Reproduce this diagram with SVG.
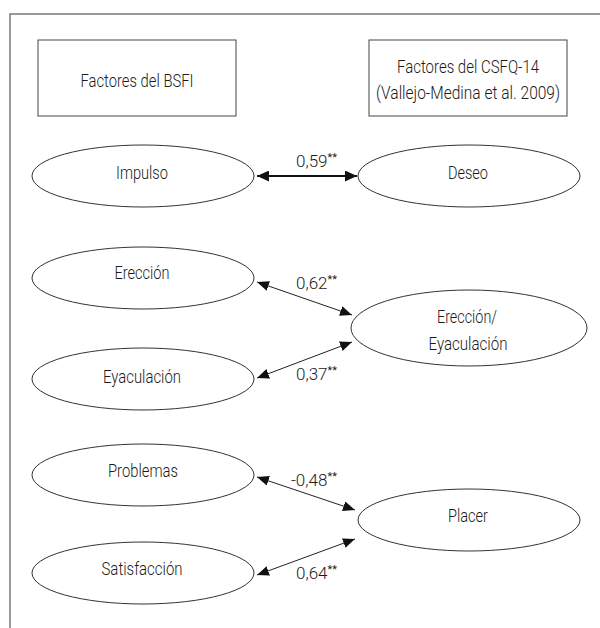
<svg xmlns="http://www.w3.org/2000/svg" width="600" height="628" viewBox="0 0 600 628">
<style>
.frame{fill:none;stroke:#7a7a7a;stroke-width:1.5}
.box{fill:#fff;stroke:#444;stroke-width:1}
.ell{fill:#fff;stroke:#333;stroke-width:1}
.t{font-family:Roboto,"Liberation Sans",Arial,sans-serif;font-weight:300;font-size:18px;fill:#1a1a1a;text-anchor:middle}
.lbl{font-family:Roboto,"Liberation Sans",Arial,sans-serif;font-weight:300;font-size:17px;fill:#1a1a1a}
.sup{font-size:11px;font-weight:400}
.c{stroke:#222;stroke-width:1;fill:none;marker-start:url(#ah);marker-end:url(#ah)}
.cb{stroke:#111;stroke-width:1.8;fill:none;marker-start:url(#ahb);marker-end:url(#ahb)}
</style>
<defs>
<marker id="ah" viewBox="0 0 12 10" refX="12" refY="5" markerWidth="12" markerHeight="10" markerUnits="userSpaceOnUse" orient="auto-start-reverse">
<path d="M0,0 L12,5 L0,10 z" fill="#111"/>
</marker>
<marker id="ahb" viewBox="0 0 12 11" refX="12" refY="5.5" markerWidth="12" markerHeight="11" markerUnits="userSpaceOnUse" orient="auto-start-reverse">
<path d="M0,0 L12,5.5 L0,11 z" fill="#111"/>
</marker>
</defs>
<rect width="600" height="628" fill="#fff"/>
<path class="frame" d="M10,628 V14 H600"/>

<g id="hdr-bsfi">
<rect class="box" x="38" y="40" width="198" height="76"/>
<text class="t" x="137" y="87" textLength="113" lengthAdjust="spacingAndGlyphs">Factores del BSFI</text>
</g>
<g id="hdr-csfq">
<rect class="box" x="369" y="40" width="198" height="76"/>
<text class="t" x="468" y="73" textLength="142" lengthAdjust="spacingAndGlyphs">Factores del CSFQ-14</text>
<text class="t" x="468" y="99" textLength="184" lengthAdjust="spacingAndGlyphs">(Vallejo-Medina et al. 2009)</text>
</g>

<g id="impulso">
<ellipse class="ell" cx="143" cy="176" rx="111" ry="31"/>
<text class="t" x="142" y="179" textLength="52" lengthAdjust="spacingAndGlyphs">Impulso</text>
</g>
<g id="deseo">
<ellipse class="ell" cx="469" cy="176" rx="111" ry="31"/>
<text class="t" x="468" y="179" textLength="40" lengthAdjust="spacingAndGlyphs">Deseo</text>
</g>
<g id="ereccion">
<ellipse class="ell" cx="143" cy="278" rx="111" ry="31"/>
<text class="t" x="142" y="279" textLength="55" lengthAdjust="spacingAndGlyphs">Erección</text>
</g>
<g id="eyaculacion">
<ellipse class="ell" cx="143" cy="379" rx="111" ry="31"/>
<text class="t" x="142" y="383" textLength="78" lengthAdjust="spacingAndGlyphs">Eyaculación</text>
</g>
<g id="ereccion-eyaculacion">
<ellipse class="ell" cx="469" cy="328" rx="118" ry="38"/>
<text class="t" x="467" y="323" textLength="60" lengthAdjust="spacingAndGlyphs">Erección/</text>
<text class="t" x="468" y="350" textLength="79" lengthAdjust="spacingAndGlyphs">Eyaculación</text>
</g>
<g id="problemas">
<ellipse class="ell" cx="143" cy="475" rx="111" ry="31"/>
<text class="t" x="143" y="477" textLength="70" lengthAdjust="spacingAndGlyphs">Problemas</text>
</g>
<g id="satisfaccion">
<ellipse class="ell" cx="143" cy="573" rx="111" ry="31"/>
<text class="t" x="142" y="575" textLength="81" lengthAdjust="spacingAndGlyphs">Satisfacción</text>
</g>
<g id="placer">
<ellipse class="ell" cx="469" cy="520" rx="111" ry="31"/>
<text class="t" x="468" y="522" textLength="40" lengthAdjust="spacingAndGlyphs">Placer</text>
</g>

<g id="connectors">
<line class="cb" x1="257" y1="176" x2="357" y2="176"/>
<line class="c" x1="257" y1="282" x2="352" y2="315"/>
<line class="c" x1="257" y1="378" x2="352" y2="342"/>
<line class="c" x1="257" y1="477" x2="355" y2="510"/>
<line class="c" x1="257" y1="575" x2="355" y2="539"/>
<text class="lbl" x="296" y="167">0,59<tspan class="sup" dy="-6">**</tspan></text>
<text class="lbl" x="296" y="289">0,62<tspan class="sup" dy="-6">**</tspan></text>
<text class="lbl" x="296" y="380">0,37<tspan class="sup" dy="-6">**</tspan></text>
<text class="lbl" x="291" y="486">-0,48<tspan class="sup" dy="-6">**</tspan></text>
<text class="lbl" x="296" y="579">0,64<tspan class="sup" dy="-6">**</tspan></text>
</g>
</svg>
